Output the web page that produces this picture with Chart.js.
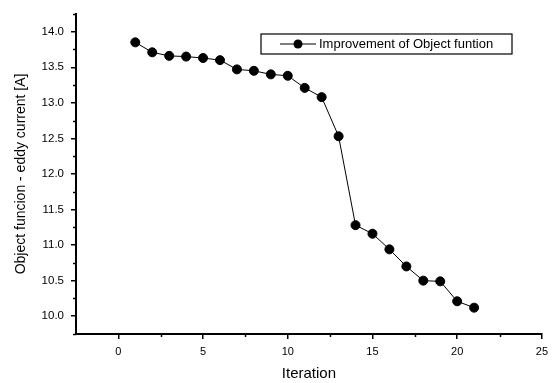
<!DOCTYPE html>
<html>
<head>
<meta charset="utf-8">
<script src="https://cdn.jsdelivr.net/npm/chart.js@4/dist/chart.umd.min.js"></script>
<style>
  html, body { margin: 0; padding: 0; background: #fff; }
</style>
</head>
<body>
<canvas id="chart" width="554" height="383"></canvas>
<script>
// data
const iterations = [1, 2, 3, 4, 5, 6, 7, 8, 9, 10, 11, 12, 13, 14, 15, 16, 17, 18, 19, 20, 21];
const objectValues = [13.85, 13.71, 13.66, 13.65, 13.63, 13.60, 13.47, 13.45, 13.40, 13.38, 13.21,
                      13.08, 12.53, 11.28, 11.16, 10.94, 10.70, 10.50, 10.49, 10.21, 10.12];
const xTickValues = [0, 5, 10, 15, 20, 25];
const yTickValues = [10.0, 10.5, 11.0, 11.5, 12.0, 12.5, 13.0, 13.5, 14.0];
const xMinorTicks = [2.5, 7.5, 12.5, 17.5, 22.5];
const yMinorTicks = [9.75, 10.25, 10.75, 11.25, 11.75, 12.25, 12.75, 13.25, 13.75, 14.25];
const seriesLabel = 'Improvement of Object funtion';

const FONT = '"Liberation Sans", Arial, sans-serif';
Chart.defaults.font.family = FONT;
Chart.defaults.color = '#000';

// short ticks between the labelled ones
const minorTicks = {
  id: 'minorTicks',
  afterDraw(chart) {
    const { ctx, scales: { x, y } } = chart;
    ctx.save();
    ctx.strokeStyle = '#000';
    ctx.lineWidth = 1.5;
    xMinorTicks.forEach((v) => {
      const px = Math.round(x.getPixelForValue(v)) + 0.5;
      ctx.beginPath();
      ctx.moveTo(px, x.top);
      ctx.lineTo(px, x.top + 3);
      ctx.stroke();
    });
    yMinorTicks.forEach((v) => {
      const py = Math.round(y.getPixelForValue(v)) + 0.5;
      ctx.beginPath();
      ctx.moveTo(y.right, py);
      ctx.lineTo(y.right - 3, py);
      ctx.stroke();
    });
    ctx.restore();
  },
};

// boxed legend in the upper right
const boxLegend = {
  id: 'boxLegend',
  afterDraw(chart) {
    const { ctx } = chart;
    const left = 261, top = 34, w = 251, h = 20;
    const cy = top + h / 2;
    ctx.save();
    ctx.strokeStyle = '#000';
    ctx.lineWidth = 1.2;
    ctx.strokeRect(left, top, w, h);
    ctx.lineWidth = 1;
    ctx.beginPath();
    ctx.moveTo(left + 19, cy);
    ctx.lineTo(left + 55, cy);
    ctx.stroke();
    ctx.beginPath();
    ctx.arc(left + 37, cy, 4.5, 0, Math.PI * 2);
    ctx.fillStyle = '#000';
    ctx.fill();
    ctx.font = '13px ' + FONT;
    ctx.textBaseline = 'middle';
    ctx.fillText(seriesLabel, left + 58, cy + 0.5);
    ctx.restore();
  },
};

const ctx = document.getElementById('chart').getContext('2d');

new Chart(ctx, {
  type: 'line',
  data: {
    datasets: [{
      label: seriesLabel,
      data: iterations.map((it, i) => ({ x: it, y: objectValues[i] })),
      borderColor: '#000',
      borderWidth: 1,
      backgroundColor: '#000',
      pointBackgroundColor: '#000',
      pointBorderColor: '#000',
      pointRadius: 4.5,
      tension: 0,
    }],
  },
  options: {
    responsive: false,
    animation: false,
    layout: { padding: { top: 10, right: 12, left: 0, bottom: 0 } },
    plugins: {
      legend: { display: false },
      tooltip: { enabled: false },
    },
    scales: {
      x: {
        type: 'linear',
        min: -2.5,
        max: 25,
        afterBuildTicks(scale) { scale.ticks = xTickValues.map((v) => ({ value: v })); },
        ticks: { font: { size: 11 }, padding: 6 },
        grid: { drawOnChartArea: false, tickLength: 5, tickColor: '#000', lineWidth: 1.5 },
        border: { display: true, color: '#000', width: 2 },
        title: { display: true, text: 'Iteration', font: { size: 15 }, padding: { top: 0, bottom: 0 } },
        afterFit(scale) { scale.height = 49; },
      },
      y: {
        min: 9.75,
        max: 14.25,
        afterBuildTicks(scale) { scale.ticks = yTickValues.map((v) => ({ value: v })); },
        ticks: {
          font: { size: 11.5 },
          padding: 7,
          callback: (v) => v.toFixed(1),
        },
        grid: { drawOnChartArea: false, tickLength: 5, tickColor: '#000', lineWidth: 1.5 },
        border: { display: true, color: '#000', width: 2 },
        title: {
          display: true,
          text: 'Object funcion - eddy current [A]',
          font: { size: 14 },
          padding: { top: 13, bottom: 0 },
        },
        afterFit(scale) { scale.width = 76; },
      },
    },
  },
  plugins: [minorTicks, boxLegend],
});
</script>
</body>
</html>
